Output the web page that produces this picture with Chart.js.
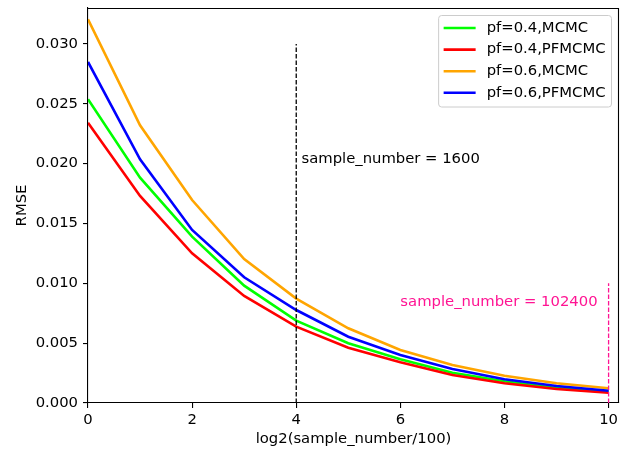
<!DOCTYPE html>
<html>
<head>
<meta charset="utf-8">
<script src="https://cdn.jsdelivr.net/npm/chart.js@4.4.1/dist/chart.umd.min.js"></script>
<style>
  html, body { margin: 0; padding: 0; background: #fff; }
  #wrap { width: 628px; height: 451px; }
</style>
</head>
<body>
<div id="wrap"><canvas id="c" width="628" height="451"></canvas></div>
<script>
// x = log2(sample_number/100)
const xValues = [0, 1, 2, 3, 4, 5, 6, 7, 8, 9, 10];
const seriesLabels = ['pf=0.4,MCMC', 'pf=0.4,PFMCMC', 'pf=0.6,MCMC', 'pf=0.6,PFMCMC'];
const seriesColors = ['#00ff00', '#ff0000', '#ffa500', '#0000ff'];
const pf04MCMC   = [0.02538, 0.01883, 0.01390, 0.00980, 0.00688, 0.00499, 0.00365, 0.00253, 0.00181, 0.00125, 0.00098];
const pf04PFMCMC = [0.02342, 0.01730, 0.01251, 0.00894, 0.00638, 0.00462, 0.00340, 0.00234, 0.00165, 0.00117, 0.00086];
const pf06MCMC   = [0.03206, 0.02320, 0.01696, 0.01203, 0.00872, 0.00624, 0.00443, 0.00318, 0.00228, 0.00165, 0.00123];
const pf06PFMCMC = [0.02849, 0.02036, 0.01446, 0.01050, 0.00777, 0.00554, 0.00401, 0.00284, 0.00198, 0.00142, 0.00103];
const seriesValues = [pf04MCMC, pf04PFMCMC, pf06MCMC, pf06PFMCMC];

// vertical markers
const markerX = [4, 10];
const markerTop = [0.030, 0.010];
const markerColors = ['#000000', '#ff1493'];
const markerTexts = ['sample_number = 1600', 'sample_number = 102400'];
const markerTextPos = [[4.1, 0.0204], [6.0, 0.00845]];

const xTicks = [0, 2, 4, 6, 8, 10];
const yTicks = [0, 0.005, 0.010, 0.015, 0.020, 0.025, 0.030];

const FONT = 'DejaVu Sans';
const FS = 14.8;
const LW = 2.6;

const datasets = seriesValues.map((vals, i) => ({
    label: seriesLabels[i],
    data: vals.map((v, j) => ({x: xValues[j], y: v})),
    borderColor: seriesColors[i],
    backgroundColor: seriesColors[i],
    borderWidth: LW,
    pointRadius: 0,
    tension: 0,
    order: 3 - i
}));
markerX.forEach((mx, i) => {
    datasets.push({
        label: '_marker' + i,
        data: [{x: mx, y: 0}, {x: mx, y: markerTop[i]}],
        borderColor: markerColors[i],
        borderWidth: 1.3,
        borderDash: [4.5, 2],
        pointRadius: 0,
        order: -1
    });
});

// frame, annotations and matplotlib-like legend
const extras = {
    id: 'extras',
    afterDatasetsDraw(chart) {
        const ctx = chart.ctx;
        const a = chart.chartArea;
        const xs = chart.scales.x, ys = chart.scales.y;
        ctx.save();
        ctx.font = FS + 'px "' + FONT + '"';
        ctx.textBaseline = 'middle';
        ctx.textAlign = 'left';
        markerTexts.forEach((t, i) => {
            ctx.fillStyle = markerColors[i];
            ctx.fillText(t, xs.getPixelForValue(markerTextPos[i][0]), ys.getPixelForValue(markerTextPos[i][1]));
        });

        // legend
        const labels = seriesLabels;
        let tw = 0;
        labels.forEach(l => { tw = Math.max(tw, ctx.measureText(l).width); });
        const bw = 48 + tw + 6;
        const bh = 91.5;
        const bx = a.right - 7.5 - bw;
        const by = a.top + 7.5;
        ctx.beginPath();
        ctx.roundRect(bx, by, bw, bh, 3);
        ctx.fillStyle = 'rgba(255,255,255,0.8)';
        ctx.fill();
        ctx.strokeStyle = '#cccccc';
        ctx.lineWidth = 1;
        ctx.stroke();
        labels.forEach((l, i) => {
            const cy = by + 12.5 + i * 21.6;
            ctx.beginPath();
            ctx.moveTo(bx + 5, cy);
            ctx.lineTo(bx + 37, cy);
            ctx.strokeStyle = seriesColors[i];
            ctx.lineWidth = LW;
            ctx.stroke();
            ctx.fillStyle = '#000';
            ctx.fillText(l, bx + 48, cy);
        });

        // top and right spines
        ctx.beginPath();
        ctx.strokeStyle = '#000';
        ctx.lineWidth = 1.1;
        ctx.moveTo(a.left, a.top + 0.5);
        ctx.lineTo(a.right - 0.5, a.top + 0.5);
        ctx.lineTo(a.right - 0.5, a.bottom);
        ctx.stroke();
        ctx.restore();
    }
};

const tickFont = {family: FONT, size: FS};

new Chart(document.getElementById('c'), {
    type: 'line',
    data: {datasets: datasets},
    options: {
        responsive: false,
        animation: false,
        layout: {padding: {top: 8, right: 9, left: 0, bottom: 0}},
        plugins: {
            legend: {display: false},
            tooltip: {enabled: false}
        },
        scales: {
            x: {
                type: 'linear',
                min: 0,
                max: 10.2,
                afterBuildTicks: s => { s.ticks = xTicks.map(v => ({value: v})); },
                afterFit: s => { s.height = 48; s.paddingLeft = 0; s.paddingRight = 0; },
                ticks: {color: '#000', font: tickFont, padding: 3, maxRotation: 0, callback: v => String(v)},
                grid: {drawOnChartArea: false, drawTicks: true, tickLength: 5, tickColor: '#000', lineWidth: 1.1},
                border: {display: true, color: '#000', width: 1.1},
                title: {display: true, text: 'log2(sample_number/100)', color: '#000', font: tickFont, padding: {top: 0, bottom: 2.5}}
            },
            y: {
                type: 'linear',
                min: 0,
                max: 0.033,
                afterBuildTicks: s => { s.ticks = yTicks.map(v => ({value: v})); },
                afterFit: s => { s.width = 88; s.paddingTop = 0; s.paddingBottom = 0; },
                ticks: {color: '#000', font: tickFont, padding: 5, callback: v => v.toFixed(3)},
                grid: {drawOnChartArea: false, drawTicks: true, tickLength: 5, tickColor: '#000', lineWidth: 1.1},
                border: {display: true, color: '#000', width: 1.1},
                title: {display: true, text: 'RMSE', color: '#000', font: tickFont, padding: {top: 13.5, bottom: 0}}
            }
        }
    },
    plugins: [extras]
});
</script>
</body>
</html>
